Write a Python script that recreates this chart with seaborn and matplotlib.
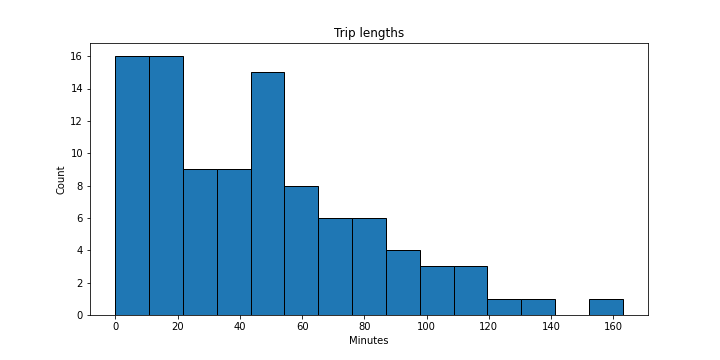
import numpy as np
import pandas as pd
import seaborn as sns
import matplotlib.pyplot as plt

# histogram: 15 equal bins from 0 to ~163 minutes
bin_edges = list(np.linspace(0, 163, 16))
bin_counts = [16, 16, 9, 9, 15, 8, 6, 6, 4, 3, 3, 1, 1, 0, 1]

centers = [(a + b) / 2 for a, b in zip(bin_edges[:-1], bin_edges[1:])]
df = pd.DataFrame({"Minutes": centers, "n": bin_counts})

fig, ax = plt.subplots(figsize=(10, 5), dpi=72)
sns.histplot(data=df, x="Minutes", weights="n", bins=bin_edges, ax=ax,
             color="#1f77b4", alpha=1, edgecolor="black", linewidth=1)
ax.set_title("Trip lengths")
ax.set_xlabel("Minutes")
ax.set_ylabel("Count")
ax.set_xticks(range(0, 161, 20))
ax.set_yticks(range(0, 17, 2))
fig.subplots_adjust(bottom=0.125)
plt.savefig("out.png")
